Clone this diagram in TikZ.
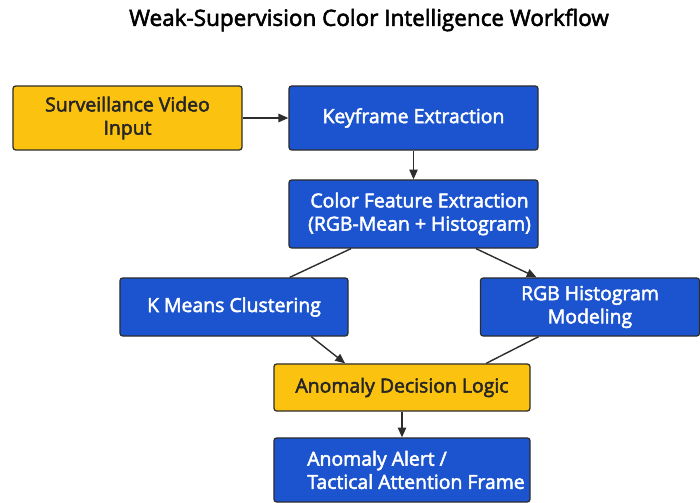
\documentclass[tikz,border=0pt]{standalone}
\usepackage{fontspec}
\setmainfont{Open Sans}
\newfontfamily\mediumfont{Open Sans}[FakeBold=2.5]
\usetikzlibrary{arrows.meta}
\definecolor{boxblue}{RGB}{28,84,208}
\definecolor{boxyellow}{RGB}{251,194,16}
\definecolor{edgegray}{RGB}{45,45,45}
\begin{document}
\begin{tikzpicture}[x=0.025cm,y=-0.025cm,
    block/.style={draw=edgegray,line width=0.9pt,rounded corners=2pt,inner sep=0pt,
      font=\mediumfont\fontsize{13.8}{16.5}\selectfont,align=center},
    bluebox/.style={block,fill=boxblue,text=white},
    yellowbox/.style={block,fill=boxyellow,text=black!85},
    flow/.style={draw=edgegray,line width=1pt,-{Triangle[length=7pt,width=6pt]}}]
  \useasboundingbox (0,0) rectangle (700,503);
  \node (title) at (369,20) {\mediumfont\fontsize{16}{18}\selectfont Weak-Supervision Color Intelligence Workflow};
  \draw
    (127.5,118) node[yellowbox,minimum width=5.725cm,minimum height=1.6cm] (video){Surveillance Video\\Input}
    (413.5,118) node[bluebox,minimum width=6.225cm,minimum height=1.6cm] (keyframe){Keyframe Extraction}
    (413.5,214) node[bluebox,minimum width=6.225cm,minimum height=1.7cm] (color){\hspace*{0.3cm}Color Feature Extraction\\\hspace*{0.3cm}(RGB-Mean + Histogram)}
    (234,307) node[bluebox,minimum width=5.7cm,minimum height=1.45cm] (kmeans){K Means Clustering}
    (590,307) node[bluebox,minimum width=5.475cm,minimum height=1.45cm] (rgbhist){RGB Histogram\\Modeling}
    (402,387.5) node[yellowbox,minimum width=6.4cm,minimum height=1.175cm] (decision){Anomaly Decision Logic}
    (402,470) node[bluebox,minimum width=6.4cm,minimum height=1.6cm,align=left] (alert){\hspace*{0.7cm}Anomaly Alert /\\\hspace*{0.7cm}Tactical Attention Frame};
  \begin{scope}[flow]
    \draw (video) to (keyframe);
    \draw (keyframe) to (color);
    \draw[-] (color.209) to (kmeans.28);
    \draw (color.331) to (rgbhist.151);
    \draw (kmeans.339) to (decision.157.6);
    \draw[-] (rgbhist.210) to (decision.16.8);
    \draw (decision) to (alert);
  \end{scope}
\end{tikzpicture}
\end{document}
